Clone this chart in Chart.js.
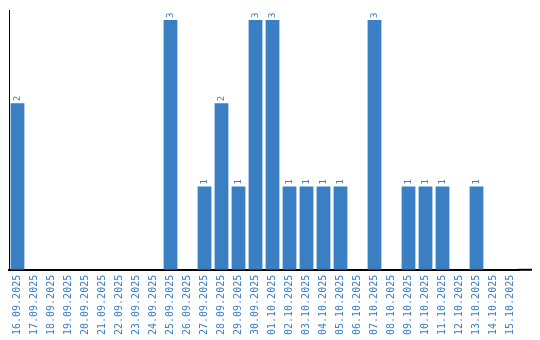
<!DOCTYPE html>
<html>
<head>
<script src="https://cdn.jsdelivr.net/npm/chart.js"></script>
<style>
  html, body { margin: 0; padding: 0; background: #fff; }
  .chart-container { position: relative; width: 540px; height: 340px; }
</style>
</head>
<body>
<div class="chart-container">
  <canvas id="dayChart"></canvas>
</div>
<script>
const days = [
  "16.09.2025", "17.09.2025", "18.09.2025", "19.09.2025", "20.09.2025",
  "21.09.2025", "22.09.2025", "23.09.2025", "24.09.2025", "25.09.2025",
  "26.09.2025", "27.09.2025", "28.09.2025", "29.09.2025", "30.09.2025",
  "01.10.2025", "02.10.2025", "03.10.2025", "04.10.2025", "05.10.2025",
  "06.10.2025", "07.10.2025", "08.10.2025", "09.10.2025", "10.10.2025",
  "11.10.2025", "12.10.2025", "13.10.2025", "14.10.2025", "15.10.2025"
];
const counts = [
  2, 0, 0, 0, 0, 0, 0, 0, 0, 3,
  0, 1, 2, 1, 3, 3, 1, 1, 1, 1,
  0, 3, 0, 1, 1, 1, 0, 1, 0, 0
];

const blue = "#3a7ec4";
const monoFont = "'DejaVu Sans Mono', monospace";

// draws the small rotated value above each non-zero bar
const valueLabels = {
  id: "valueLabels",
  afterDatasetsDraw(chart) {
    const ctx = chart.ctx;
    const meta = chart.getDatasetMeta(0);
    ctx.save();
    ctx.fillStyle = blue;
    ctx.font = "9px " + monoFont;
    ctx.textAlign = "left";
    ctx.textBaseline = "middle";
    meta.data.forEach((bar, i) => {
      const v = counts[i];
      if (!v) return;
      ctx.save();
      ctx.translate(bar.x, bar.y - 2);
      ctx.rotate(-Math.PI / 2);
      ctx.fillText(String(v), 0, 0);
      ctx.restore();
    });
    ctx.restore();
  }
};

// the baseline in the original runs a bit past the last category
const longBaseline = {
  id: "longBaseline",
  afterDraw(chart) {
    const ctx = chart.ctx;
    const y = chart.scales.x.top;
    ctx.save();
    ctx.strokeStyle = "#000";
    ctx.lineWidth = 2;
    ctx.beginPath();
    ctx.moveTo(chart.chartArea.right - 1, y);
    ctx.lineTo(chart.width - 8, y);
    ctx.stroke();
    ctx.restore();
  }
};

new Chart(document.getElementById("dayChart"), {
  type: "bar",
  data: {
    labels: days,
    datasets: [{
      data: counts,
      backgroundColor: blue,
      borderWidth: 0,
      barPercentage: 0.9,
      categoryPercentage: 0.9
    }]
  },
  options: {
    responsive: true,
    maintainAspectRatio: false,
    animation: false,
    layout: { padding: { left: 9, right: 21, top: 10, bottom: 0 } },
    plugins: {
      legend: { display: false },
      tooltip: { enabled: false }
    },
    scales: {
      x: {
        grid: { display: false, drawTicks: false },
        border: { color: "#000", width: 2 },
        ticks: {
          color: blue,
          font: { family: monoFont, size: 10 },
          minRotation: 90,
          maxRotation: 90,
          padding: 5
        }
      },
      y: {
        min: 0,
        max: 3.12,
        grid: { display: false, drawTicks: false },
        border: { color: "#000", width: 1 },
        ticks: { display: false }
      }
    }
  },
  plugins: [valueLabels, longBaseline]
});
</script>
</body>
</html>
